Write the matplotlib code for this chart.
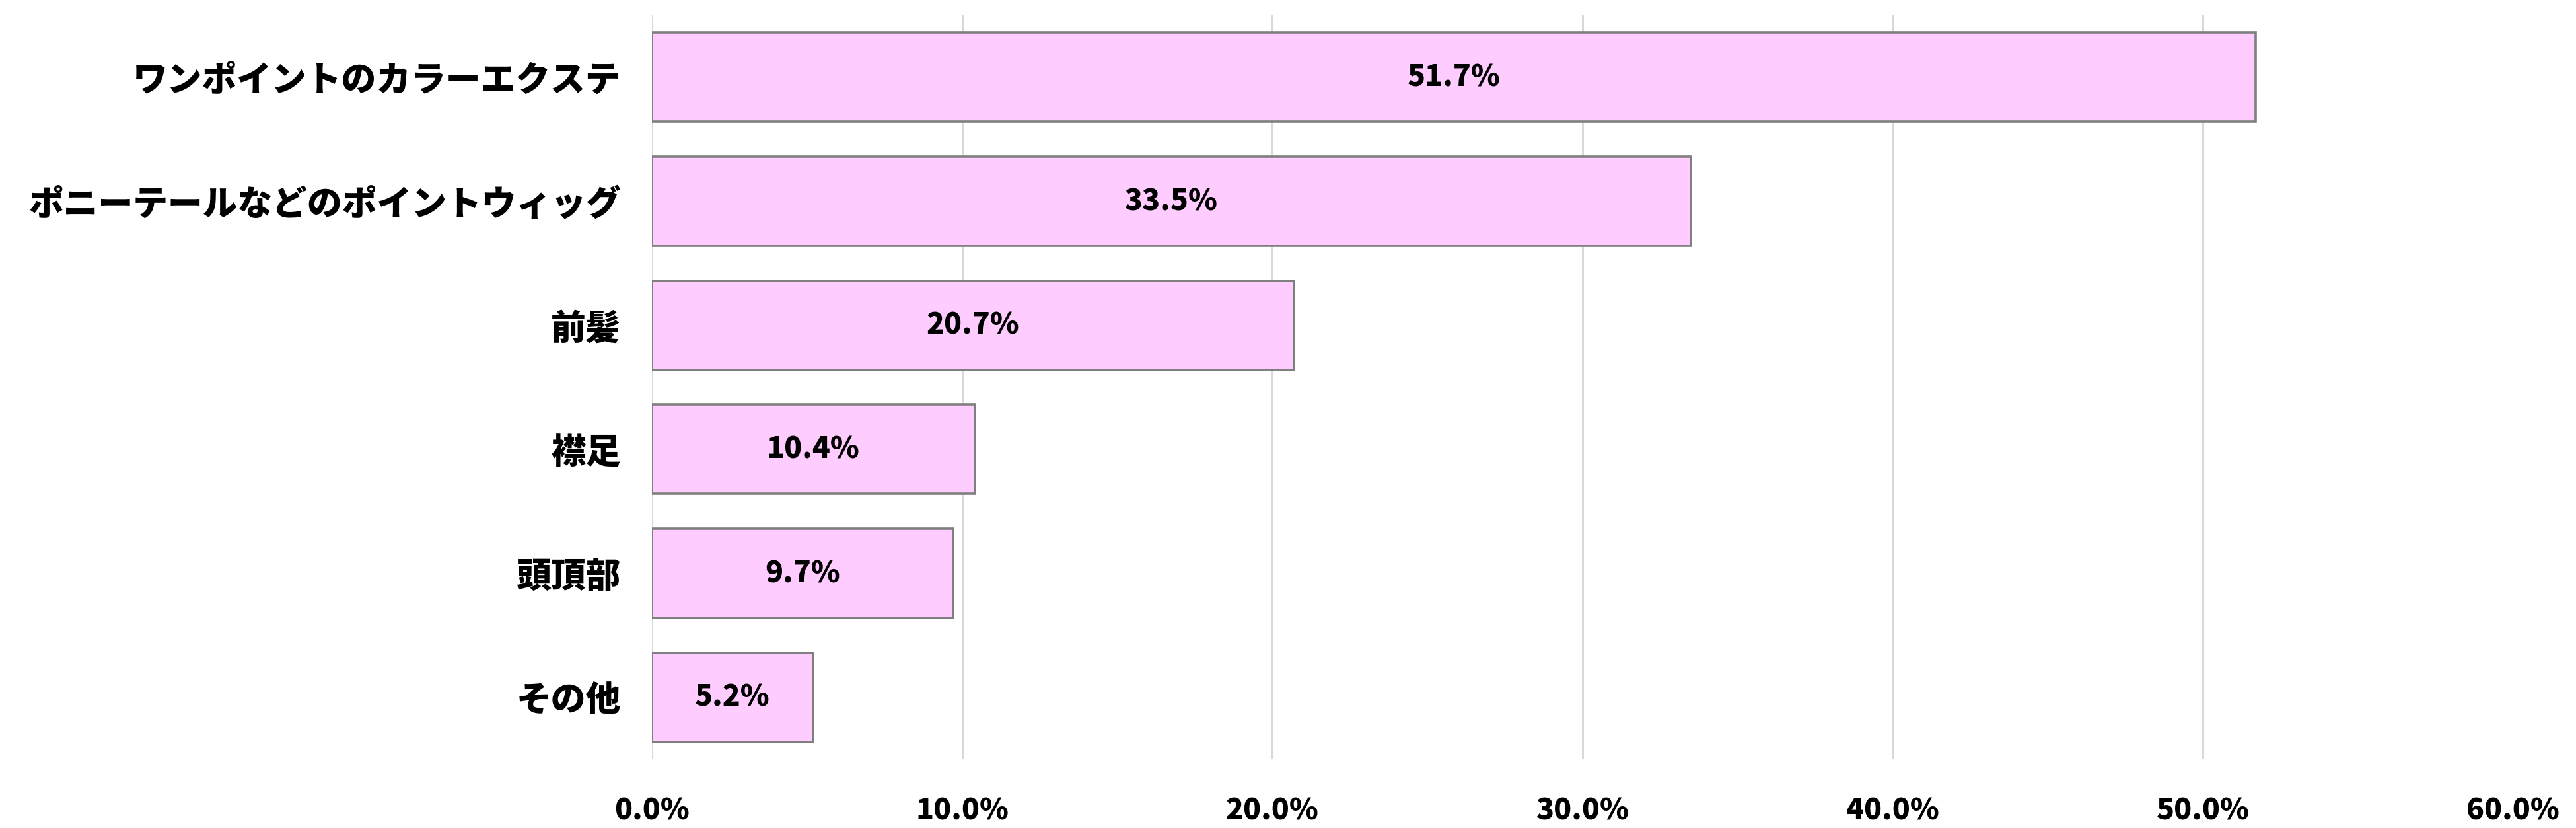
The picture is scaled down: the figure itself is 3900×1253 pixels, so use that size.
import matplotlib
matplotlib.use('Agg')
import matplotlib.pyplot as plt
from matplotlib.ticker import FuncFormatter

plt.rcParams['font.family'] = ['Noto Sans CJK JP', 'DejaVu Sans']

# data (top to bottom as in the chart)
categories = ['ワンポイントのカラーエクステ', 'ポニーテールなどのポイントウィッグ', '前髪', '襟足', '頭頂部', 'その他']
values = [51.7, 33.5, 20.7, 10.4, 9.7, 5.2]
xticks = [0, 10, 20, 30, 40, 50, 60]

fig = plt.figure(figsize=(39, 12.53), dpi=100)
ax = fig.add_axes([0.2531, 0.083, 0.9756 - 0.2531, 0.9816 - 0.083])

pos = list(range(len(categories)))
bars = ax.barh(pos, values, height=0.72, color='#FFCCFF', edgecolor='#7F7F7F', linewidth=2.6, zorder=3)

for b, v in zip(bars, values):
    ax.text(v / 2, b.get_y() + b.get_height() / 2, '%.1f%%' % v,
            ha='center', va='center', fontsize=32, fontweight='heavy', zorder=4)

ax.set_yticks(pos)
ax.set_yticklabels(categories, fontsize=38, fontweight='heavy')
ax.invert_yaxis()
ax.set_ylim(len(categories) - 0.5, -0.5)

ax.set_xlim(0, 60)
ax.set_xticks(xticks)
ax.xaxis.set_major_formatter(FuncFormatter(lambda x, p: '%.1f%%' % x))
for lab in ax.get_xticklabels():
    lab.set_fontsize(32)
    lab.set_fontweight('heavy')

ax.tick_params(axis='both', length=0)
ax.tick_params(axis='x', pad=40)
ax.tick_params(axis='y', pad=34)
ax.grid(axis='x', color='#D9D9D9', linewidth=2.2, zorder=0)
for s in ax.spines.values():
    s.set_visible(False)

plt.savefig('out.png', dpi=100)
